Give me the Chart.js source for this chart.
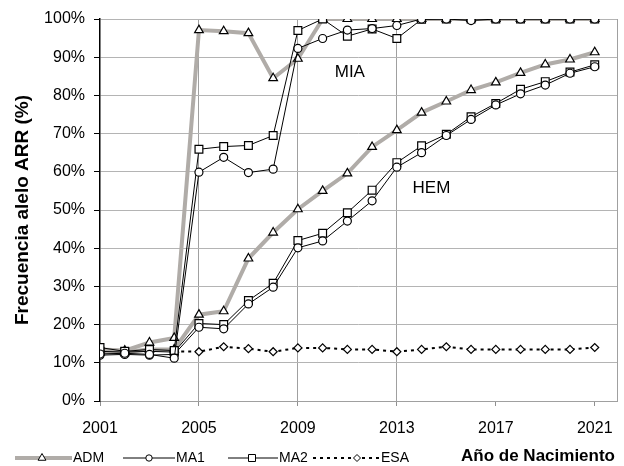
<!DOCTYPE html>
<html>
<head>
<meta charset="utf-8">
<script src="https://cdn.jsdelivr.net/npm/chart.js@4"></script>
<style>
  body { margin: 0; background: #fff; }
  canvas { display: block; }
</style>
</head>
<body>
<canvas id="chart" width="624" height="466"></canvas>
<script>
const years = [2001, 2002, 2003, 2004, 2005, 2006, 2007, 2008, 2009, 2010, 2011, 2012, 2013, 2014, 2015, 2016, 2017, 2018, 2019, 2020, 2021];
const xTicks = [2001, 2005, 2009, 2013, 2017, 2021];

// MIA
const admMIA = [13.5, 13.2, 15.3, 16.5, 97.1, 96.8, 96.3, 84.5, 89.6, 100, 100, 100, 100, 100, 100, 100, 100, 100, 100, 100, 100];
const ma1MIA = [12.3, 12.5, 12.2, 11.2, 59.9, 63.8, 59.8, 60.7, 92.3, 94.9, 97.1, 97.5, 98.3, 100, 100, 99.6, 100, 100, 100, 100, 100];
const ma2MIA = [14, 13, 13.5, 13.2, 65.9, 66.6, 66.9, 69.5, 97, 100, 95.5, 97.4, 94.9, 99.9, 100, 100, 100, 100, 100, 100, 100];

// HEM
const admHEM = [12.8, 12.8, 13.5, 13.5, 22.6, 23.5, 37.3, 44.1, 50.2, 55, 59.6, 66.5, 70.9, 75.5, 78.4, 81.4, 83.4, 85.9, 88.1, 89.4, 91.3];
const ma1HEM = [12, 12.2, 12, 12.2, 19.3, 18.9, 25.4, 29.8, 40.1, 41.9, 47.1, 52.4, 61.2, 65, 69.5, 73.7, 77.5, 80.4, 82.7, 85.8, 87.5];
const ma2HEM = [13, 12.8, 13, 12.8, 20.3, 20, 26.3, 30.8, 42, 43.9, 49.3, 55.2, 62.4, 66.8, 69.8, 74.4, 77.9, 81.6, 83.6, 86.1, 88];

// ESA
const esa = [null, null, null, 13, 12.9, 14.2, 13.7, 12.9, 13.9, 13.9, 13.5, 13.5, 12.9, 13.5, 14.2, 13.5, 13.5, 13.5, 13.5, 13.5, 14];

const admGray = '#b0aca8';

function pts(arr) {
    return years.map((yr, i) => ({ x: yr, y: arr[i] }));
}

function admSet(arr) {
    return {
        data: pts(arr), borderColor: admGray, borderWidth: 4,
        pointStyle: 'triangle', pointRadius: 5, pointBackgroundColor: '#fff',
        pointBorderColor: '#000', pointBorderWidth: 1.2, order: 2
    };
}
function blackSet(arr, style, r) {
    return {
        data: pts(arr), borderColor: '#000', borderWidth: 1,
        pointStyle: style, pointRadius: r, pointBackgroundColor: '#fff',
        pointBorderColor: '#000', pointBorderWidth: 1.2, order: 0
    };
}

// right border of plot area
const frame = {
    id: 'frame',
    beforeDatasetsDraw(chart) {
        const { ctx, chartArea: a } = chart;
        ctx.save();
        ctx.strokeStyle = '#a0a0a0';
        ctx.lineWidth = 1;
        ctx.beginPath();
        ctx.moveTo(a.right + 0.5, a.top);
        ctx.lineTo(a.right + 0.5, a.bottom);
        ctx.stroke();
        ctx.restore();
    }
};

// MIA / HEM group labels
const groupLabels = {
    id: 'groupLabels',
    afterDatasetsDraw(chart) {
        const { ctx, scales } = chart;
        const items = [['MIA', 2011.1, 86.1], ['HEM', 2014.4, 55.6]];
        ctx.save();
        ctx.font = '17px Arial';
        ctx.fillStyle = '#000';
        ctx.textAlign = 'center';
        ctx.textBaseline = 'middle';
        items.forEach(([t, x, y]) => {
            ctx.fillText(t, scales.x.getPixelForValue(x), scales.y.getPixelForValue(y));
        });
        ctx.restore();
    }
};

function marker(ctx, style, x, y, r) {
    ctx.beginPath();
    if (style === 'triangle') {
        ctx.moveTo(x, y - r);
        ctx.lineTo(x + r * 0.866, y + r * 0.5);
        ctx.lineTo(x - r * 0.866, y + r * 0.5);
        ctx.closePath();
    } else if (style === 'circle') {
        ctx.arc(x, y, r, 0, Math.PI * 2);
    } else if (style === 'rect') {
        ctx.rect(x - r, y - r, r * 2, r * 2);
    } else {
        ctx.moveTo(x, y - r);
        ctx.lineTo(x + r, y);
        ctx.lineTo(x, y + r);
        ctx.lineTo(x - r, y);
        ctx.closePath();
    }
    ctx.fillStyle = '#fff';
    ctx.fill();
    ctx.setLineDash([]);
    ctx.lineWidth = 1;
    ctx.strokeStyle = '#000';
    ctx.stroke();
}

// legend row plus the x axis title, both along the bottom
const bottomLegend = {
    id: 'bottomLegend',
    afterDraw(chart) {
        const ctx = chart.ctx;
        const y = 458;
        const items = [
            { text: 'ADM', color: admGray, width: 4, dash: [], style: 'triangle', r: 4.5, x0: 15, x1: 72, mx: 42 },
            { text: 'MA1', color: '#000', width: 1, dash: [], style: 'circle', r: 3.2, x0: 123, x1: 175, mx: 149 },
            { text: 'MA2', color: '#000', width: 1, dash: [], style: 'rect', r: 3.5, x0: 228, x1: 278, mx: 252 },
            { text: 'ESA', color: '#000', width: 2, dash: [3, 4], style: 'rectRot', r: 3.5, x0: 313, x1: 380, mx: 357 }
        ];
        ctx.save();
        items.forEach(it => {
            ctx.strokeStyle = it.color;
            ctx.lineWidth = it.width;
            ctx.setLineDash(it.dash);
            ctx.beginPath();
            ctx.moveTo(it.x0, y);
            ctx.lineTo(it.x1, y);
            ctx.stroke();
            marker(ctx, it.style, it.mx, y, it.r);
            ctx.font = '14px Arial';
            ctx.fillStyle = '#000';
            ctx.textAlign = 'left';
            ctx.textBaseline = 'middle';
            ctx.fillText(it.text, it.x1 + 1, y);
        });
        ctx.font = 'bold 17px Arial';
        ctx.textAlign = 'right';
        ctx.fillText('Año de Nacimiento', 615, 456);
        ctx.restore();
    }
};

new Chart(document.getElementById('chart'), {
    type: 'line',
    data: {
        datasets: [
            admSet(admMIA), blackSet(ma1MIA, 'circle', 4), blackSet(ma2MIA, 'rect', 5.5),
            admSet(admHEM), blackSet(ma1HEM, 'circle', 4), blackSet(ma2HEM, 'rect', 5.5),
            {
                data: pts(esa), borderColor: '#000', borderWidth: 2, borderDash: [3, 4],
                pointStyle: 'rectRot', pointRadius: 4, pointBackgroundColor: '#fff',
                pointBorderColor: '#000', pointBorderWidth: 1.2, order: 1
            }
        ]
    },
    options: {
        responsive: false,
        animation: false,
        devicePixelRatio: 1,
        layout: { padding: { top: 19, right: 7, left: 0, bottom: 0 } },
        plugins: { legend: { display: false }, tooltip: { enabled: false } },
        scales: {
            x: {
                type: 'linear',
                min: 2001,
                max: 2021.9,
                afterBuildTicks: axis => { axis.ticks = xTicks.map(v => ({ value: v })); },
                afterFit: scale => {
                    scale.height = 65;
                    scale.paddingLeft = 0;
                    scale.paddingRight = 0;
                },
                ticks: {
                    color: '#000', font: { family: 'Arial', size: 16 }, padding: 13,
                    maxRotation: 0, autoSkip: false, callback: v => String(v)
                },
                grid: {
                    color: c => [2005, 2009, 2013].includes(c.tick && c.tick.value) ? '#a0a0a0' : 'rgba(0,0,0,0)',
                    tickColor: '#909090',
                    tickLength: 5
                },
                border: { color: '#a0a0a0', width: 1 }
            },
            y: {
                min: 0,
                max: 100,
                afterFit: scale => { scale.width = 100; },
                ticks: {
                    stepSize: 10, color: '#000', font: { family: 'Arial', size: 16 }, padding: 9,
                    callback: v => v + '%'
                },
                grid: { color: '#b4b4b4', tickColor: '#000', tickLength: 6 },
                border: { color: '#000', width: 1.5 },
                title: {
                    display: true, text: 'Frecuencia alelo ARR (%)', color: '#000',
                    font: { family: 'Arial', size: 19, weight: 'bold' }, padding: { top: 11, bottom: 0 }
                }
            }
        }
    },
    plugins: [frame, groupLabels, bottomLegend]
});
</script>
</body>
</html>
